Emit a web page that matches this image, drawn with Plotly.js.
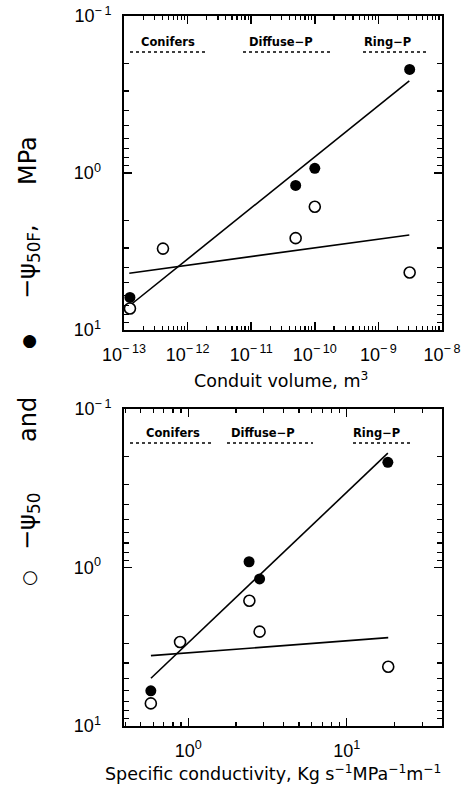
<!DOCTYPE html>
<html>
<head>
<meta charset="utf-8">
<script src="https://cdn.plot.ly/plotly-3.0.1.min.js"></script>
<style>html,body{margin:0;padding:0;background:#fff;}#chart{width:468px;height:789px;}</style>
</head>
<body>
<div id="chart"></div>
<script>
// ---- Data ----
// Top panel: conduit volume (m^3)
const volFilled = [3.1e-9, 1.0e-10, 5.0e-11, 1.24e-13];
const psi50F_vol = [0.219, 0.933, 1.2, 6.2];
const volOpen = [1.0e-10, 5.0e-11, 4.1e-13, 3.1e-9, 1.24e-13];
const psi50_vol = [1.64, 2.6, 3.03, 4.3, 7.3];
const volFitF = [1.32e-13, 3.06e-9];
const psiFitF_vol = [6.83, 0.259];
const volFit = [1.21e-13, 3.06e-9];
const psiFit_vol = [4.35, 2.48];

// Bottom panel: specific conductivity
const kFilled = [18.2, 2.42, 2.82, 0.58];
const psi50F_k = [0.217, 0.92, 1.18, 6.0];
const kOpen = [2.43, 2.82, 0.887, 18.3, 0.58];
const psi50_k = [1.62, 2.54, 2.95, 4.23, 7.2];
const kFitF = [0.581, 18.2];
const psiFitF_k = [5.0, 0.19];
const kFit = [0.581, 18.3];
const psiFit_k = [3.6, 2.77];

// Tick labels
const volTickVals = [1e-13, 1e-12, 1e-11, 1e-10, 1e-9, 1e-8];
const volTickText = ["10<sup>\u2212\u200913</sup>", "10<sup>\u2212\u200912</sup>", "10<sup>\u2212\u200911</sup>", "10<sup>\u2212\u200910</sup>", "10<sup>\u2212\u20099</sup>", "10<sup>\u2212\u20098</sup>"];
const kTickVals = [1, 10];
const kTickText = ["10<sup>0</sup>", "10<sup>1</sup>"];
const psiTickVals = [0.1, 1, 10];
const psiTickText = ["10<sup>\u2212\u20091</sup>", "10<sup>0\u00A0\u00A0\u00A0</sup>", "10<sup>1\u00A0\u00A0\u00A0</sup>"];

const groupNames = ["Conifers", "Diffuse\u2212P", "Ring\u2212P"];
const xTitleTop = "Conduit volume, m<sup>3</sup>";
const xTitleBot = "Specific conductivity, Kg s<sup>\u22121</sup>MPa<sup>\u22121</sup>m<sup>\u22121</sup>";
// y title pieces, bottom to top
const yTitleParts = ["\u25CB", "\u2212\u03C8<sub>50</sub>", "and", "\u25CF", "\u2212\u03C8<sub>50F</sub>,", "MPa"];

// ---- Layout helpers (pixel geometry) ----
const W = 468, H = 789;
const px = v => v / W;
const py = v => 1 - v / H;

const tickFont = {family: "Liberation Sans, Arial, sans-serif", size: 18, color: "#000"};

function xAxis(extra) {
  return Object.assign({
    type: "log", domain: [px(124), px(442)],
    ticks: "inside", ticklen: 8, tickwidth: 1.5, tickcolor: "#000",
    showline: true, linewidth: 2, linecolor: "#000", mirror: "ticks",
    showgrid: false, zeroline: false, tickmode: "array",
    tickfont: tickFont, ticklabelstandoff: 7,
    minor: {ticks: "inside", ticklen: 4, tickwidth: 1.2, tickcolor: "#000", dtick: "D1", showgrid: false}
  }, extra);
}
function yAxis(extra) {
  return Object.assign({
    type: "log", range: [1, -1],
    ticks: "inside", ticklen: 8, tickwidth: 1.5, tickcolor: "#000",
    showline: true, linewidth: 2, linecolor: "#000", mirror: "ticks",
    showgrid: false, zeroline: false, tickmode: "array",
    tickvals: psiTickVals, ticktext: psiTickText, tickfont: tickFont, ticklabelstandoff: 7,
    minor: {ticks: "inside", ticklen: 5, tickwidth: 1.2, tickcolor: "#000", dtick: "D1", showgrid: false}
  }, extra);
}

const filledMarker = {symbol: "circle", size: 11, color: "#000"};
const openMarker = {symbol: "circle-open", size: 11, color: "#000", line: {width: 1.6, color: "#000"}};
const lineStyle = {color: "#000", width: 1.6};

const traces = [
  {x: volFitF, y: psiFitF_vol, mode: "lines", line: lineStyle, xaxis: "x", yaxis: "y", showlegend: false},
  {x: volFit, y: psiFit_vol, mode: "lines", line: lineStyle, xaxis: "x", yaxis: "y", showlegend: false},
  {x: volFilled, y: psi50F_vol, mode: "markers", marker: filledMarker, xaxis: "x", yaxis: "y", showlegend: false},
  {x: volOpen, y: psi50_vol, mode: "markers", marker: openMarker, xaxis: "x", yaxis: "y", showlegend: false},
  {x: kFitF, y: psiFitF_k, mode: "lines", line: lineStyle, xaxis: "x2", yaxis: "y2", showlegend: false},
  {x: kFit, y: psiFit_k, mode: "lines", line: lineStyle, xaxis: "x2", yaxis: "y2", showlegend: false},
  {x: kFilled, y: psi50F_k, mode: "markers", marker: filledMarker, xaxis: "x2", yaxis: "y2", showlegend: false},
  {x: kOpen, y: psi50_k, mode: "markers", marker: openMarker, xaxis: "x2", yaxis: "y2", showlegend: false}
];

// Group label positions (pixels): [centerX, textY, lineX0, lineX1, lineY]
const groupTop = [[168, 42, 130, 207, 52], [281, 42, 243, 330, 52], [387, 42, 363, 426, 52]];
const groupBot = [[173, 433, 130, 212, 443], [263, 433, 227, 313, 443], [376, 433, 353, 413, 443]];

const annotations = [];
const shapes = [];
[groupTop, groupBot].forEach(g => {
  g.forEach((p, i) => {
    annotations.push({xref: "paper", yref: "paper", x: px(p[0]), y: py(p[1]), text: "<b>" + groupNames[i] + "</b>",
      showarrow: false, xanchor: "center", yanchor: "middle",
      font: {family: "DejaVu Sans, sans-serif", size: 11.5, color: "#000"}});
    shapes.push({type: "line", xref: "paper", yref: "paper", x0: px(p[2]), x1: px(p[3]), y0: py(p[4]), y1: py(p[4]),
      line: {color: "#000", width: 1.6, dash: "dot"}});
  });
});

// x-axis titles
const xTitleFont = {family: "DejaVu Sans, sans-serif", size: 17.5, color: "#000"};
annotations.push({xref: "paper", yref: "paper", x: px(281), y: py(380), text: xTitleTop, showarrow: false,
  xanchor: "center", yanchor: "middle", font: xTitleFont});
annotations.push({xref: "paper", yref: "paper", x: px(273), y: py(773), text: xTitleBot, showarrow: false,
  xanchor: "center", yanchor: "middle", font: xTitleFont});

// y title pieces: centre positions (pixels) and sizes
const yPartY = [578, 522, 420, 342, 262, 161];
const yPartSize = [18, 24, 24, 17, 24, 24];
yTitleParts.forEach((t, i) => {
  annotations.push({xref: "paper", yref: "paper", x: px(28), y: py(yPartY[i]), textangle: -90, text: t,
    showarrow: false, xanchor: "center", yanchor: "middle",
    font: {family: "DejaVu Sans, sans-serif", size: yPartSize[i], color: "#000"}});
});

const layout = {
  width: W, height: H,
  margin: {l: 0, r: 0, t: 0, b: 0},
  paper_bgcolor: "#fff", plot_bgcolor: "#fff",
  showlegend: false,
  xaxis: xAxis({anchor: "y", range: [-13, -8], tickvals: volTickVals, ticktext: volTickText}),
  yaxis: yAxis({anchor: "x", domain: [py(330), py(16)]}),
  xaxis2: xAxis({anchor: "y2", range: [-0.406, 1.602], tickvals: kTickVals, ticktext: kTickText}),
  yaxis2: yAxis({anchor: "x2", domain: [py(726), py(409)]}),
  annotations: annotations,
  shapes: shapes
};

Plotly.newPlot("chart", traces, layout, {staticPlot: true, displayModeBar: false});
</script>
</body>
</html>
